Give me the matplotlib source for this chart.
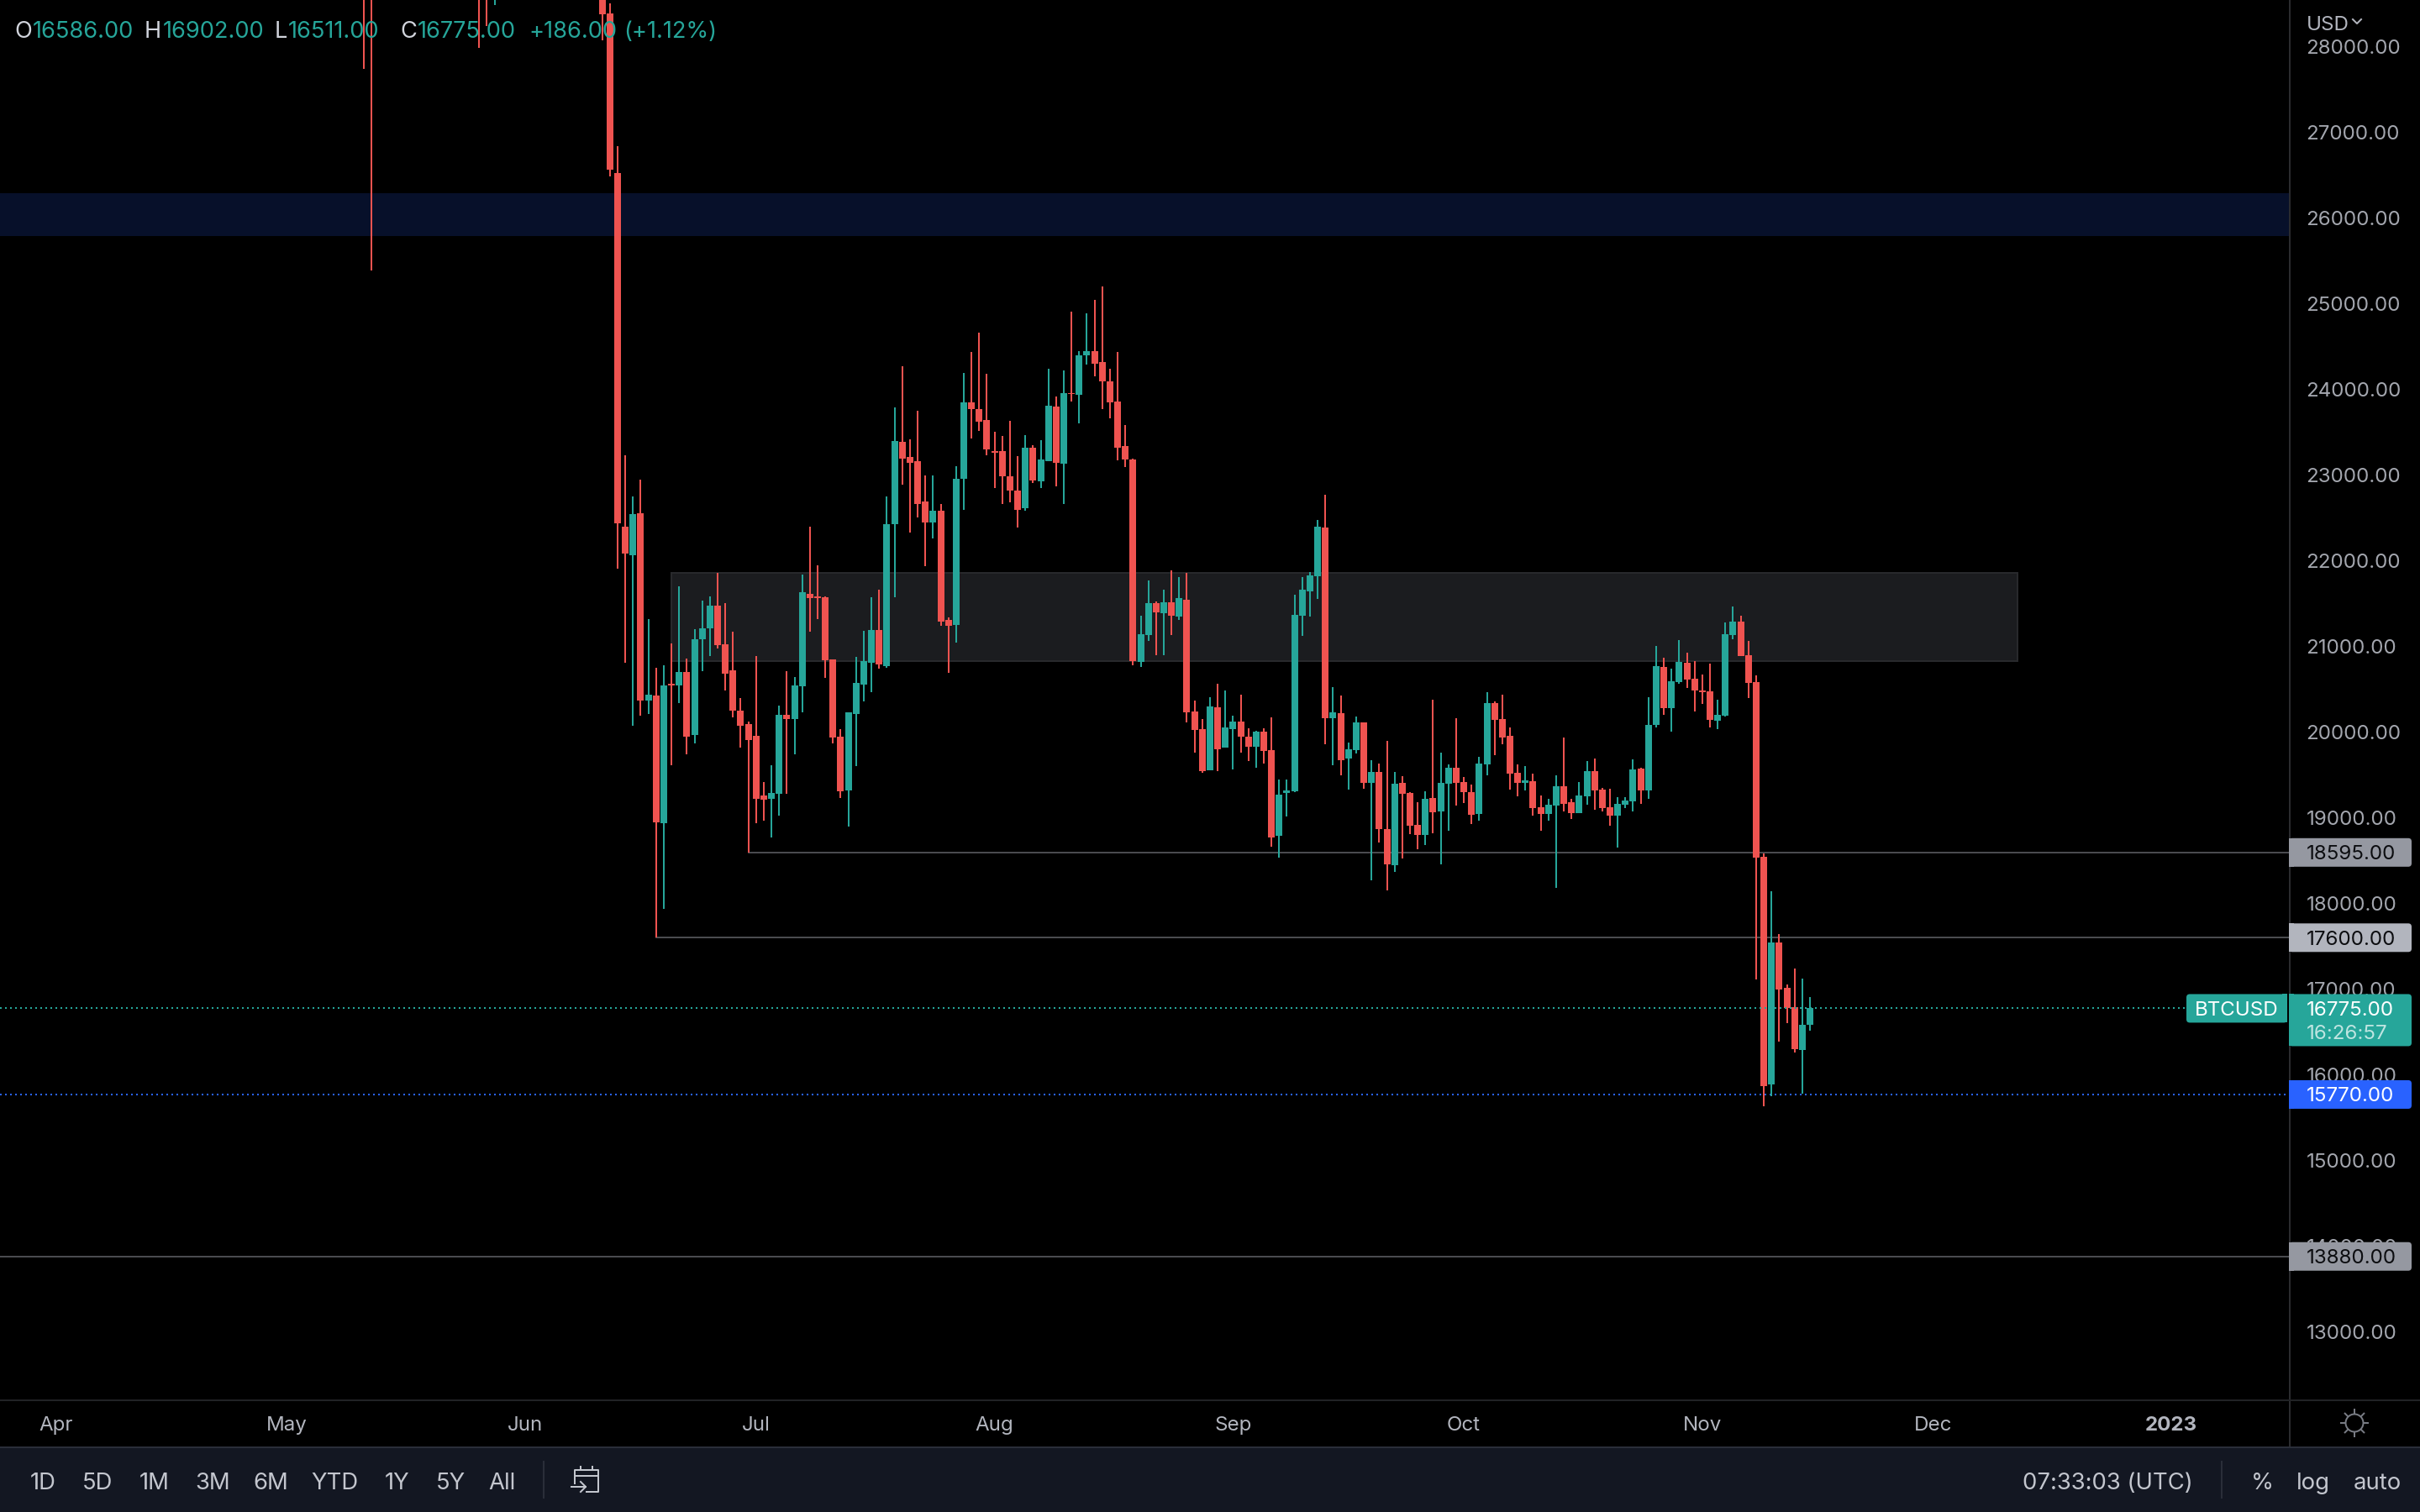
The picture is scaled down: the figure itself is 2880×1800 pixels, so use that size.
import numpy as np
import pandas as pd
import matplotlib
matplotlib.use('Agg')
import matplotlib.pyplot as plt
import matplotlib.dates as mdates
from matplotlib.patches import Rectangle, FancyBboxPatch, Circle

plt.rcParams['font.family'] = ['Inter', 'DejaVu Sans']

# candles whose bodies run off the top of the pane, tops are estimates
early_dates = ['2022-05-11', '2022-05-12', '2022-05-26', '2022-05-27', '2022-05-28', '2022-06-11', '2022-06-12']
early_open = [31000, 29300, 29300, 29000, 28600, 29400, 28387]
early_high = [32000, 30100, 29800, 29400, 29200, 30000, 28505]
early_low = [27743, 25390, 27988, 28243, 28488, 28077, 26485]
early_close = [29000, 29000, 29200, 28600, 29000, 28374, 26567]

start_date = '2022-06-13'
opens = [26524, 22396, 22067, 22553, 20369, 20428, 18937, 20561, 20544, 20701,
         19966, 21083, 21212, 21475, 21023, 20722, 20250, 20092, 19956, 19259,
         19220, 19280, 20201, 20152, 20533, 21612, 21587, 21573, 20848, 19945,
         19318, 20211, 20554, 20810, 21191, 20771, 22427, 23387, 23211, 23162,
         22691, 22446, 22583, 21309, 21250, 22956, 23848, 23770, 23642, 23280,
         23280, 22985, 22819, 22613, 23319, 22927, 23162, 23799, 23133, 23956,
         23936, 24397, 24446, 24319, 24093, 23858, 23338, 23182, 20819, 21132,
         21505, 21387, 21515, 21348, 21544, 20240, 20034, 19554, 20289, 19819,
         20034, 20123, 19946, 19828, 20005, 19789, 18789, 19289, 19309, 21358,
         21642, 21819, 22387, 20162, 20221, 19691, 19789, 20113, 19407, 19534,
         18868, 18446, 19407, 19289, 18917, 18799, 19230, 19074, 19397, 19583,
         19417, 19299, 19044, 19622, 20338, 20152, 19956, 19524, 19407, 19426,
         19122, 19044, 19142, 19368, 19181, 19054, 19250, 19544, 19328, 19122,
         19024, 19152, 19191, 19573, 19318, 20083, 20759, 20279, 20583, 20808,
         20622, 20485, 20475, 20132, 20191, 21132, 21289, 20897, 20583, 18544,
         15887, 17544, 17014, 16789, 16289, 16586]
highs = [26838, 23230, 22749, 22945, 21317, 20750, 20778, 21034, 21703, 20859,
         21202, 21535, 21584, 21857, 21507, 21170, 20397, 20120, 20887, 19416,
         19612, 20309, 20712, 20642, 21839, 22396, 21948, 21584, 20848, 20036,
         20232, 20876, 21181, 21573, 21661, 22749, 23789, 24270, 23417, 23750,
         22995, 22995, 22662, 21338, 23103, 24191, 24436, 24662, 24182, 23505,
         23456, 23632, 23221, 23466, 23348, 23407, 24240, 23917, 24221, 24907,
         24446, 24887, 25044, 25201, 24240, 24436, 23583, 23191, 21358, 21770,
         21525, 21662, 21887, 21809, 21858, 20368, 20152, 20407, 20564, 20485,
         20191, 20436, 20044, 20015, 20044, 20172, 19446, 19446, 21603, 21809,
         21868, 22476, 22770, 20525, 20427, 19878, 20181, 20113, 19672, 19632,
         19897, 19534, 19485, 19299, 19181, 19309, 20378, 19760, 19622, 20162,
         19475, 19387, 19711, 20466, 20358, 20436, 20054, 19622, 19603, 19515,
         19260, 19220, 19495, 19936, 19220, 19417, 19662, 19691, 19348, 19338,
         19240, 19240, 19681, 19583, 20406, 21004, 20867, 20740, 21073, 20926,
         20828, 20671, 20799, 20377, 21279, 21465, 21357, 21063, 20661, 18583,
         18142, 17642, 17054, 17240, 17122, 16902]
lows = [21909, 20813, 20075, 20190, 20211, 17600, 17932, 19616, 20334, 19745,
        19872, 20715, 20890, 20971, 20484, 20176, 19823, 18595, 18940, 18961,
        18765, 19024, 19283, 19745, 20232, 21167, 21314, 20628, 19872, 19234,
        18898, 19602, 20362, 20467, 20740, 20750, 21574, 22887, 22329, 22505,
        21936, 22260, 21240, 20691, 21044, 22593, 23427, 23515, 23231, 22848,
        22662, 22682, 22387, 22583, 22907, 22848, 23162, 22868, 22662, 23858,
        23603, 24289, 24152, 23770, 23662, 23172, 23093, 20780, 20760, 21064,
        20897, 20897, 21132, 21309, 20113, 19760, 19525, 19554, 19544, 19819,
        19564, 19760, 19662, 19583, 19632, 18662, 18534, 19015, 19299, 21123,
        21348, 21554, 19858, 19613, 19495, 19328, 19750, 19338, 18270, 18711,
        18152, 18368, 18525, 18809, 18632, 18681, 18819, 18456, 18848, 19142,
        19171, 18926, 18966, 19495, 19730, 19858, 19328, 19250, 19319, 19024,
        18848, 18966, 18181, 19073, 18985, 19054, 19152, 19093, 19073, 18907,
        18652, 19113, 19073, 19161, 19220, 20053, 20201, 20004, 20563, 20514,
        20240, 20328, 20053, 20034, 20181, 21083, 20887, 20397, 17113, 15632,
        15750, 16387, 16603, 16260, 15779, 16511]
closes = [22438, 22084, 22543, 20369, 20435, 18947, 20544, 20540, 20701, 19945,
          21083, 21212, 21475, 21016, 20680, 20250, 20075, 19907, 19220, 19210,
          19290, 20201, 20152, 20544, 21633, 21563, 21566, 20838, 19938, 19308,
          20232, 20575, 20827, 21191, 20789, 22427, 23397, 23191, 23142, 22662,
          22446, 22583, 21289, 21240, 22956, 23848, 23770, 23623, 23299, 23260,
          22985, 22819, 22593, 23319, 22936, 23182, 23809, 23142, 23956, 23943,
          24397, 24446, 24299, 24093, 23848, 23319, 23182, 20828, 21142, 21505,
          21397, 21515, 21358, 21564, 20230, 20025, 19544, 20299, 19799, 20054,
          20123, 19946, 19828, 20005, 19779, 18770, 19270, 19319, 21368, 21662,
          21828, 22397, 20162, 20230, 19672, 19799, 20113, 19407, 19534, 18868,
          18456, 19397, 19279, 18907, 18799, 19221, 19064, 19407, 19583, 19407,
          19299, 19034, 19632, 20338, 20142, 19936, 19515, 19407, 19436, 19113,
          19044, 19152, 19368, 19162, 19054, 19260, 19544, 19319, 19113, 19024,
          19162, 19201, 19563, 19318, 20083, 20769, 20279, 20593, 20818, 20612,
          20485, 20465, 20142, 20201, 21142, 21289, 20887, 20573, 18534, 15867,
          17544, 16995, 16779, 16299, 16583, 16775]

price_ticks = [13000, 14000, 15000, 16000, 17000, 18000, 19000, 20000, 21000,
               22000, 23000, 24000, 25000, 26000, 27000, 28000]
month_ticks = ['2022-04-01', '2022-05-01', '2022-06-01', '2022-07-01', '2022-08-01',
               '2022-09-01', '2022-10-01', '2022-11-01', '2022-12-01', '2023-01-01']
month_labels = ['Apr', 'May', 'Jun', 'Jul', 'Aug', 'Sep', 'Oct', 'Nov', 'Dec', '2023']

range_buttons = ['1D', '5D', '1M', '3M', '6M', 'YTD', '1Y', '5Y', 'All']
button_x = [51, 116, 184, 253, 322, 398, 473, 536, 597]

RED = '#ef5350'
GREEN = '#26a69a'
BLUE = '#2962ff'
TEXT = '#b2b5be'

W, H = 2880, 1800
PANE_R, PANE_B = 2724, 1667
PX = 0.36  # one pixel in points at dpi 200

fig = plt.figure(figsize=(14.4, 9), dpi=200, facecolor='black')
ax = fig.add_axes([0, 1 - PANE_B / H, PANE_R / W, PANE_B / H], facecolor='black')

main_dates = mdates.date2num(pd.date_range(start_date, periods=len(opens)))
x = np.concatenate([mdates.date2num(pd.to_datetime(early_dates)), main_dates])
o = np.array(early_open + opens)
h = np.array(early_high + highs)
l = np.array(early_low + lows)
c = np.array(early_close + closes)
colors = np.where(c >= o, GREEN, RED)

d0 = main_dates[0]
day_px = 9.155
ax.set_xlim(d0 - 735 / day_px, d0 + (PANE_R - 735) / day_px)
ax.set_ylim(18595 - (PANE_B - 1014.8) / 0.102, 18595 + 1014.8 / 0.102)

# zones behind the candles
ax.axhspan(25789, 26289, color='#07102a', lw=0, zorder=1)
zone_l, zone_r = mdates.date2num(pd.to_datetime(['2022-06-20', '2022-12-12']))
ax.add_patch(Rectangle((zone_l, 20831), zone_r - zone_l, 21857 - 20831, facecolor='#1b1c1f',
                       edgecolor='#28292c', lw=2 * PX, zorder=1))

# levels
line_col = '#58595d'
ax.plot([mdates.date2num(pd.Timestamp('2022-06-30')), ax.get_xlim()[1]], [18595, 18595], color=line_col, lw=1.7 * PX, zorder=2)
ax.plot([mdates.date2num(pd.Timestamp('2022-06-18')), ax.get_xlim()[1]], [17600, 17600], color=line_col, lw=1.7 * PX, zorder=2)
ax.axhline(13880, color=line_col, lw=1.7 * PX, zorder=2)
ax.axhline(15770, color=BLUE, lw=2 * PX, ls=(0, (1, 2)), zorder=2)

# candles
ax.vlines(x, l, h, colors=colors, lw=2 * PX, zorder=3)
body_low = np.minimum(o, c)
body_h = np.maximum(np.abs(c - o), 15)
ax.bar(x, body_h, bottom=body_low, width=8 / day_px, color=colors, linewidth=0, zorder=4)

# last price dotted line stops at the symbol tag
last_right = d0 + (2600 - 735) / day_px
ax.plot([ax.get_xlim()[0], last_right], [closes[-1], closes[-1]], color=GREEN, lw=2 * PX, ls=(0, (1, 2)), zorder=5)

for s in ax.spines.values():
    s.set_visible(False)
ax.yaxis.tick_right()
ax.set_yticks(price_ticks)
ax.set_yticklabels(['%.2f' % p for p in price_ticks])
ax.tick_params(axis='y', length=0, pad=7.4, labelsize=8.7, labelcolor='#a3a6ae')
ax.set_xticks(mdates.date2num(pd.to_datetime(month_ticks)))
ax.set_xticklabels(month_labels)
ax.tick_params(axis='x', length=0, pad=7.0, labelsize=8.7, labelcolor=TEXT)
ax.get_xticklabels()[-1].set_fontweight('bold')

# page furniture, in pixels of the picture
ui = fig.add_axes([0, 0, 1, 1], zorder=10)
ui.set_xlim(0, W)
ui.set_ylim(H, 0)
ui.axis('off')
fig.canvas.draw()


def price_y(p):
    return ui.transData.inverted().transform(ax.transData.transform((d0, p)))[1]


def tag(x0, x1, y0, y1, color, flat_left=True, flat_right=False):
    ui.add_patch(FancyBboxPatch((x0, y0), x1 - x0, y1 - y0, boxstyle='round,pad=0,rounding_size=4',
                                facecolor=color, edgecolor='none', zorder=3))
    if flat_left:
        ui.add_patch(Rectangle((x0, y0), 6, y1 - y0, facecolor=color, edgecolor='none', zorder=3))
    if flat_right:
        ui.add_patch(Rectangle((x1 - 6, y0), 6, y1 - y0, facecolor=color, edgecolor='none', zorder=3))


def price_tag(p, color, tcolor):
    y = price_y(p)
    tag(PANE_R, 2870, y - 17, y + 17, color)
    ui.text(2745, y, '%.2f' % p, color=tcolor, fontsize=8.7, va='center_baseline', ha='left', zorder=4)


price_tag(18595, '#9598a1', '#0c0d10')
price_tag(17600, '#b2b5be', '#0c0d10')
price_tag(13880, '#9598a1', '#0c0d10')
price_tag(15770, BLUE, 'white')

# last price tag with countdown and symbol name
ylast = price_y(closes[-1])
tag(PANE_R, 2870, ylast - 17, ylast + 45, GREEN)
ui.text(2745, ylast, '%.2f' % closes[-1], color='white', fontsize=8.7, va='center_baseline', zorder=4)
ui.text(2745, ylast + 28, '16:26:57', color='#bfe5e1', fontsize=8.7, va='center_baseline', zorder=4)
tag(2602, 2722, ylast - 17, ylast + 17, GREEN, flat_left=False, flat_right=True)
ui.text(2662, ylast, 'BTCUSD', color='white', fontsize=8.7, va='center_baseline', ha='center', zorder=4)

# frame lines
ui.plot([PANE_R + 1, PANE_R + 1], [0, 1723], color='#2a2b2e', lw=2 * PX, zorder=2)
ui.plot([0, W], [PANE_B, PANE_B], color='#212225', lw=2 * PX, zorder=2)
ui.add_patch(Rectangle((0, 1723), W, 77, facecolor='#131722', edgecolor='none', zorder=2))
ui.plot([0, W], [1723, 1723], color='#2a2e39', lw=2 * PX, zorder=2)

# OHLC header
hdr_y = 35
for letter, lx, val, vx in [('O', 17, opens[-1], 39), ('H', 172, highs[-1], 194),
                            ('L', 327, lows[-1], 343), ('C', 476, closes[-1], 497)]:
    ui.text(lx, hdr_y, letter, color='#d1d4dc', fontsize=9.8, va='center_baseline', zorder=4)
    ui.text(vx, hdr_y, '%.2f' % val, color=GREEN, fontsize=9.8, va='center_baseline', zorder=4)
ui.text(629, hdr_y, '+186.00', color=GREEN, fontsize=9.8, va='center_baseline', zorder=4)
ui.text(742, hdr_y, '(+1.12%)', color=GREEN, fontsize=9.8, va='center_baseline', zorder=4)

# currency selector
ui.text(2745, 27, 'USD', color=TEXT, fontsize=8.7, va='center_baseline', zorder=4)
ui.plot([2800, 2805, 2810], [23, 28, 23], color=TEXT, lw=2 * PX, zorder=4)

# sun icon
sun_x, sun_y = 2802, 1694
ui.add_patch(Circle((sun_x, sun_y), 10.5, facecolor='none', edgecolor='#787b83', lw=2 * PX, zorder=4))
for a in np.arange(8) * np.pi / 4:
    ui.plot([sun_x + 11 * np.cos(a), sun_x + 16 * np.cos(a)], [sun_y + 11 * np.sin(a), sun_y + 16 * np.sin(a)],
            color='#787b83', lw=2 * PX, zorder=4)

# bottom toolbar
bar_col = '#c3c6ce'
for lab, bx in zip(range_buttons, button_x):
    ui.text(bx, 1763, lab, color=bar_col, fontsize=9.9, ha='center', va='center_baseline', zorder=4)
ui.plot([647, 647], [1740, 1783], color='#2a2e39', lw=2 * PX, zorder=3)
ui.plot([2644, 2644], [1740, 1783], color='#2a2e39', lw=2 * PX, zorder=3)
ui.text(2610, 1763, '07:33:03 (UTC)', color=bar_col, fontsize=9.9, ha='right', va='center_baseline', zorder=4)
ui.text(2692, 1763, '%', color=bar_col, fontsize=9.9, ha='center', va='center_baseline', zorder=4)
ui.text(2753, 1763, 'log', color=bar_col, fontsize=9.9, ha='center', va='center_baseline', zorder=4)
ui.text(2829, 1763, 'auto', color=bar_col, fontsize=9.9, ha='center', va='center_baseline', zorder=4)

# calendar icon
ui.plot([684, 684, 712, 712, 698], [1766, 1750, 1750, 1776, 1776], color=bar_col, lw=2 * PX, zorder=4)
ui.plot([684, 712], [1757, 1757], color=bar_col, lw=2 * PX, zorder=4)
ui.plot([691, 691], [1746, 1750], color=bar_col, lw=2 * PX, zorder=4)
ui.plot([705, 705], [1746, 1750], color=bar_col, lw=2 * PX, zorder=4)
ui.plot([680, 697], [1770, 1770], color=bar_col, lw=2 * PX, zorder=4)
ui.plot([691, 697, 691], [1764, 1770, 1776], color=bar_col, lw=2 * PX, zorder=4)

fig.savefig('out.png', dpi=200, facecolor='black')
